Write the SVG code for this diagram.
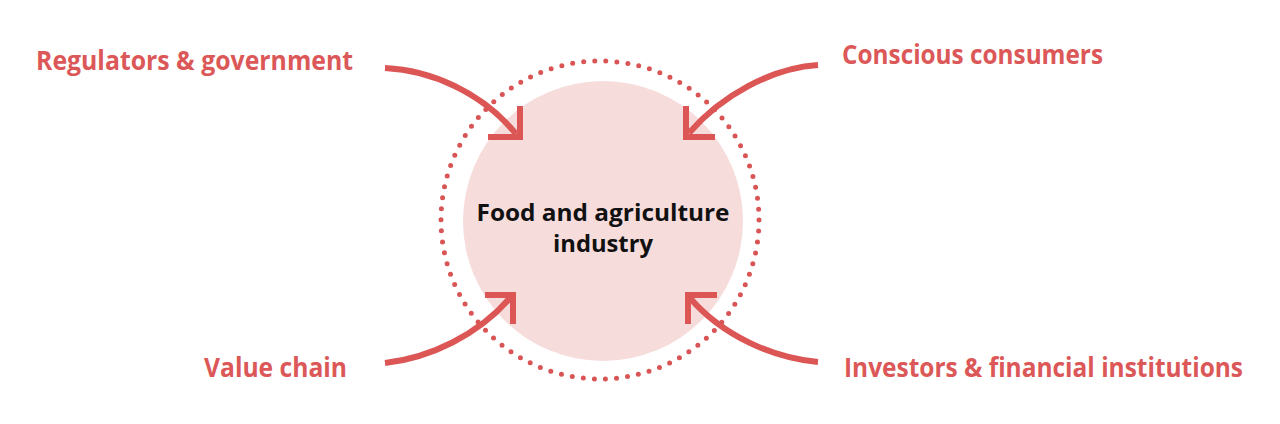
<svg xmlns="http://www.w3.org/2000/svg" width="1280" height="424" viewBox="0 0 1280 424">
  <defs>
    <style>
      .lbl { font-family: "Open Sans", "Liberation Sans", Arial, sans-serif; font-weight: bold; font-size: 26px; fill: #dc5858; }
      .ctr { font-family: "Open Sans", "Liberation Sans", Arial, sans-serif; font-weight: bold; font-size: 22.5px; fill: #111111; text-anchor: middle; }
      .arrow { fill: none; stroke: #dc5656; stroke-width: 6; }
      .head { fill: none; stroke: #dc5656; stroke-width: 6; stroke-linecap: butt; stroke-linejoin: miter; }
    </style>
  </defs>
  <rect width="1280" height="424" fill="#ffffff"/>

  <g id="industry">
    <circle cx="603" cy="221" r="140" fill="#f7dcdc"/>
    <circle cx="600" cy="220" r="159" fill="none" stroke="#d95555" stroke-width="5" stroke-linecap="round" stroke-dasharray="0 11.1"/>
    <text class="ctr" x="603" y="221" textLength="253" lengthAdjust="spacingAndGlyphs">Food and agriculture</text>
    <text class="ctr" x="603" y="252" textLength="100" lengthAdjust="spacingAndGlyphs">industry</text>
  </g>

  <g id="regulators">
    <text class="lbl" x="36" y="70" textLength="317" lengthAdjust="spacingAndGlyphs">Regulators &amp; government</text>
  </g>
  <g id="consumers">
    <text class="lbl" x="842" y="64" textLength="261" lengthAdjust="spacingAndGlyphs">Conscious consumers</text>
  </g>
  <g id="value-chain">
    <text class="lbl" x="204" y="377" textLength="143" lengthAdjust="spacingAndGlyphs">Value chain</text>
  </g>
  <g id="investors">
    <text class="lbl" x="844" y="377" textLength="399" lengthAdjust="spacingAndGlyphs">Investors &amp; financial institutions</text>
  </g>

  <g id="connectors">
    <path class="arrow" d="M385,68 C430,70 482,92 516,134"/>
    <path class="head" d="M488,137 L520,137 L520,106"/>

    <path class="arrow" d="M818,65 C772,68 722,95 689,133"/>
    <path class="head" d="M715,137 L686,137 L686,106"/>

    <path class="arrow" d="M385,363 C430,358 478,335 510,298"/>
    <path class="head" d="M485,295 L513,295 L513,324"/>

    <path class="arrow" d="M818,362 C772,358 722,335 690,298"/>
    <path class="head" d="M717,295 L688,295 L688,324"/>
  </g>
</svg>
